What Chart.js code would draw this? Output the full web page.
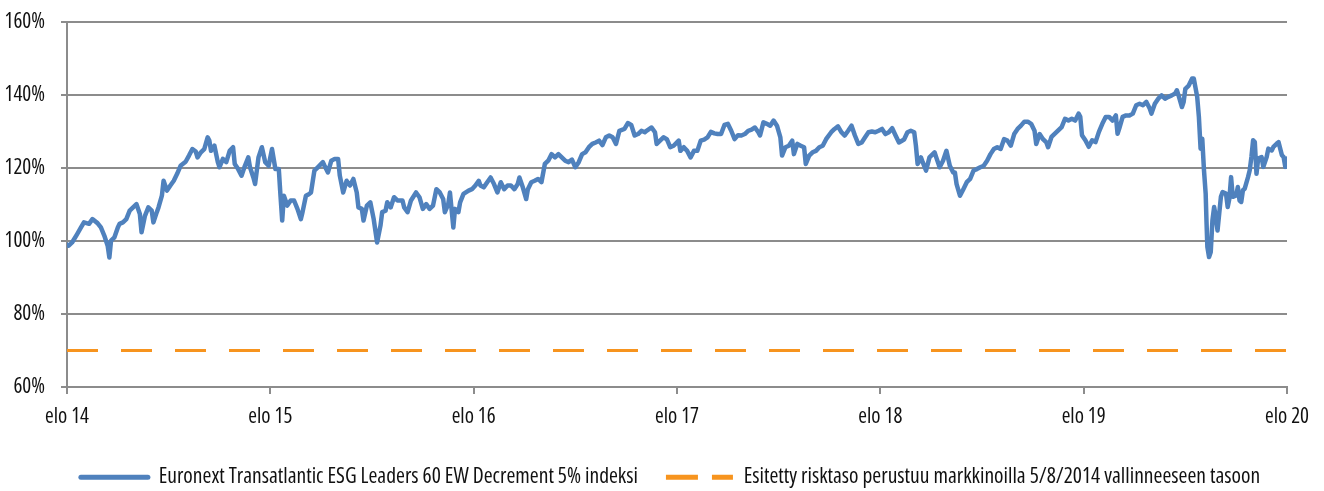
<!DOCTYPE html>
<html>
<head>
<meta charset="utf-8">
<style>
  html, body { margin: 0; padding: 0; background: #fff; overflow: hidden; }
  #wrap { width: 1324px; height: 498px; }
</style>
<script src="https://cdn.jsdelivr.net/npm/chart.js@4/dist/chart.umd.min.js"></script>
</head>
<body>
<div id="wrap"><canvas id="c" width="1324" height="498"></canvas></div>
<script>
// Months since elo 2014 (Aug 2014) and index level (%)
const months2014 = [0.0,0.1,0.3,0.6,0.8,1.0,1.3,1.5,1.8,2.0,2.2,2.4,2.5,2.6,2.8,3.0,3.1,3.3,3.5,3.7,
  3.9,4.1,4.3,4.4,4.6,4.8,5.0,5.1,5.3,5.4,5.6,5.7,5.9,6.1,6.3,6.5,6.7,7.0,7.2,7.4,
  7.6,7.7,7.9,8.1,8.3,8.4,8.5,8.7,8.9,9.0,9.2,9.4,9.6,9.8,9.9,10.1,10.3,10.5,10.7,10.8,
  11.0,11.1,11.3,11.5,11.7,11.9,12.1,12.3,12.5,12.6,12.7,12.8,13.0,13.2,13.4,13.6,13.8,13.9,14.1,14.3];
const values2014 = [99.0,98.7,99.6,101.9,103.5,105.1,104.7,106.0,104.9,103.7,101.5,98.7,95.5,100.1,101.0,103.7,104.7,105.1,106.0,108.3,
  109.2,110.1,107.4,102.4,106.9,109.2,108.3,105.1,107.9,109.2,112.4,116.5,113.8,115.2,116.5,118.4,120.6,121.7,123.4,125.2,
  124.5,122.9,124.3,125.2,128.4,127.5,124.7,126.1,121.6,120.2,122.5,121.6,124.7,125.7,121.1,119.7,117.9,120.6,122.9,120.2,
  117.4,115.6,122.9,125.7,121.6,120.6,125.2,119.7,119.7,112.4,105.6,112.4,109.7,111.1,111.1,108.8,106.0,107.9,112.4,112.9];

const months2015 = [14.4,14.6,14.8,15.1,15.2,15.4,15.6,15.8,16.0,16.1,16.3,16.5,16.7,16.9,17.1,17.2,17.4,17.5,17.7,17.9,
  18.1,18.3,18.5,18.6,18.8,18.9,19.1,19.3,19.5,19.8,19.9,20.1,20.3,20.6,20.8,21.0,21.2,21.4,21.6,21.8,
  22.0,22.2,22.3,22.5,22.6,22.8,22.9,23.1,23.2,23.4,23.7,23.9,24.1,24.3,24.4,24.6,24.8,25.0,25.2,25.4,
  25.6,25.8,26.0,26.2,26.4,26.6,26.7,26.9,27.1,27.2,27.4,27.6,27.8,28.0,28.2,28.4,28.6,28.8];
const values2015 = [113.3,119.3,120.2,121.6,120.6,118.8,122.0,122.5,122.5,117.9,113.3,116.5,115.2,117.0,113.3,109.2,108.8,105.6,109.7,110.6,
  106.0,99.6,104.2,107.9,108.3,110.6,109.2,112.0,111.1,111.1,109.2,107.9,111.1,113.3,112.0,108.8,110.1,108.8,109.7,114.2,
  113.3,111.5,107.9,110.1,113.3,103.7,108.8,107.9,110.6,112.9,113.8,114.2,115.2,116.5,115.2,114.7,116.1,117.4,115.6,113.3,
  116.1,114.2,115.2,115.2,114.2,115.6,117.4,114.7,111.5,114.2,116.1,116.5,117.0,116.1,121.1,122.0,123.8,122.9];

const months2017 = [29.0,29.2,29.4,29.6,29.8,30.0,30.2,30.4,30.6,30.8,31.0,31.2,31.4,31.6,31.8,32.0,32.2,32.4,32.6,32.9,
  33.1,33.3,33.5,33.7,33.9,34.1,34.2,34.5,34.7,34.8,35.0,35.2,35.4,35.6,35.8,36.1,36.2,36.4,36.6,36.8,
  37.0,37.2,37.4,37.6,37.8,38.0,38.2,38.4,38.6,38.8,39.0,39.2,39.4,39.6,39.8,40.0,40.2,40.4,40.6,40.8,
  40.9,41.1,41.3,41.5,41.7,41.9,42.1,42.2,42.4,42.6,42.8,42.9,43.1,43.3];
const values2017 = [123.8,122.9,122.0,121.6,122.3,120.2,121.6,123.8,124.3,125.7,126.6,127.0,127.5,126.3,128.4,128.9,128.4,126.6,130.2,130.7,
  132.3,131.8,128.9,129.3,130.2,129.8,130.2,131.1,129.8,126.6,127.5,128.4,127.9,125.7,126.1,127.5,124.7,125.7,124.7,122.9,
  124.7,124.7,127.5,127.8,128.4,129.9,129.5,129.3,129.3,131.8,132.1,130.2,127.9,129.0,128.9,129.3,130.2,130.5,131.1,129.8,
  128.9,132.5,132.1,131.6,133.0,131.6,128.4,123.4,125.7,126.1,127.5,123.8,126.6,126.1];

const months2018 = [43.5,43.6,43.8,44.0,44.2,44.4,44.6,44.8,45.1,45.3,45.5,45.7,45.9,46.1,46.3,46.5,46.7,46.9,47.1,47.3,
  47.5,47.7,47.9,48.1,48.3,48.5,48.7,48.9,49.1,49.4,49.6,49.8,50.0,50.1,50.2,50.4,50.5,50.7,50.9,51.2,
  51.3,51.5,51.7,51.9,52.1,52.3,52.4,52.5,52.7,52.9,53.1,53.3,53.5,53.7,53.9,54.1,54.3,54.5,54.7,54.9,
  55.1,55.3,55.5,55.7,55.9,56.1,56.3,56.5,56.7,56.9,57.1,57.2,57.4,57.6,57.8,57.9];
const values2018 = [125.7,121.1,123.4,124.3,124.7,125.7,126.1,127.9,129.8,130.7,131.4,129.8,128.9,130.2,131.6,128.9,126.6,127.0,128.4,129.8,
  130.0,129.8,130.2,130.7,129.3,129.8,130.9,128.9,127.0,127.8,129.8,130.2,129.8,126.1,121.1,122.9,121.6,119.3,122.9,124.3,
  122.9,120.2,122.0,124.7,120.6,118.8,118.8,115.6,112.4,114.2,116.1,117.0,119.3,119.7,120.2,120.6,122.0,123.8,125.2,125.7,
  125.2,127.9,127.5,126.1,129.3,130.7,131.6,132.7,132.7,132.1,130.2,126.6,129.3,127.9,127.0,125.7];

const months2019 = [58.1,58.3,58.5,58.7,58.9,59.1,59.3,59.5,59.7,59.8,59.9,60.1,60.3,60.5,60.7,60.9,61.1,61.3,61.5,61.7,
  61.9,62.0,62.1,62.3,62.5,62.7,62.9,63.1,63.3,63.5,63.7,63.9,64.0,64.2,64.4,64.6,64.8,65.0,65.2,65.4,
  65.5,65.6,65.8,65.9,66.0,66.2,66.4,66.5,66.7,66.8,66.9,67.0,67.1,67.2,67.25,67.3,67.4,67.5,67.6,67.7,
  67.8,67.9,68.0,68.1,68.2,68.4,68.5,68.6,68.7,68.8,69.0,69.1,69.2,69.3,69.4,69.5,69.7,69.8,69.9,70.0,
  70.1,70.2,70.3,70.5,70.6,70.8,70.9,71.1,71.2,71.4,71.5,71.7,71.8,71.9,72.0];
const values2019 = [128.5,129.4,130.3,131.2,133.5,133.0,133.5,133.0,134.9,134.0,129.0,127.6,125.8,127.6,127.1,129.9,132.1,134.0,134.0,133.0,
  134.4,129.4,130.8,134.0,134.4,134.4,134.9,137.2,137.6,137.2,138.1,136.3,134.9,137.6,139.0,139.9,139.0,139.5,139.9,140.4,
  141.3,139.9,136.7,138.1,141.7,142.6,144.5,144.5,139.5,134.0,125.3,128.0,119.4,113.0,105.2,98.4,95.6,97.0,105.7,109.3,
  106.6,102.9,107.5,112.1,113.4,113.0,109.3,111.6,117.5,112.1,112.5,114.8,111.1,110.7,113.9,114.3,117.5,119.4,123.0,127.6,
  127.1,118.4,122.6,123.0,120.3,123.0,125.3,124.8,125.8,126.7,127.1,123.5,123.0,120.3,122.6];

const riskMonths = [0, 72];
const riskLevel = [70, 70];

const xTickLabels = ['elo 14', 'elo 15', 'elo 16', 'elo 17', 'elo 18', 'elo 19', 'elo 20'];
const seriesNames = ['Euronext Transatlantic ESG Leaders 60 EW Decrement 5% indeksi',
                     'Esitetty risktaso perustuu markkinoilla 5/8/2014 vallinneeseen tasoon'];

const allMonths = [].concat(months2014, months2015, months2017, months2018, months2019);
const allValues = [].concat(values2014, values2015, values2017, values2018, values2019);
const indexPoints = allMonths.map((m, i) => ({ x: m, y: allValues[i] }));
const riskPoints = riskMonths.map((m, i) => ({ x: m, y: riskLevel[i] }));

const FAMILY = "'Open Sans', sans-serif";
// 'condensed' is passed through the weight slot so the canvas font string becomes
// "condensed <size>px 'Open Sans'" (CSS font shorthand with font-stretch).
const tickFont = { family: FAMILY, size: 21, weight: 'condensed' };
const legendFont = { family: FAMILY, size: 21.5, weight: 'condensed' };
const GRID = '#8c8c8c';
const BLUE = '#4F81BD';
const ORANGE = '#F7941E';
const TEXT = '#111111';

// Nudge the legend block so it is centred like the original (slightly right of canvas centre)
const legendShift = {
  id: 'legendShift',
  afterLayout(chart) {
    const lg = chart.legend;
    if (lg) { lg.left += 27; lg.right += 27; }
  }
};

new Chart(document.getElementById('c'), {
  type: 'line',
  data: {
    datasets: [
      { label: seriesNames[0], data: indexPoints, borderColor: BLUE, backgroundColor: BLUE,
        borderWidth: 4.5, pointRadius: 0, tension: 0, borderJoinStyle: 'round', borderCapStyle: 'round' },
      { label: seriesNames[1], data: riskPoints, borderColor: ORANGE, backgroundColor: ORANGE,
        borderWidth: 3, pointRadius: 0, borderDash: [31, 23] }
    ]
  },
  plugins: [legendShift],
  options: {
    responsive: false,
    animation: false,
    devicePixelRatio: 1,
    layout: { padding: { left: 0, right: 37, top: 22, bottom: 0 } },
    plugins: {
      tooltip: { enabled: false },
      legend: {
        position: 'bottom',
        labels: {
          font: legendFont,
          color: TEXT,
          padding: 28,
          usePointStyle: true,
          pointStyleWidth: 67,
          generateLabels: (chart) => chart.data.datasets.map((ds, i) => ({
            text: ds.label,
            datasetIndex: i,
            pointStyle: 'line',
            strokeStyle: ds.borderColor,
            fillStyle: ds.borderColor,
            lineWidth: 5,
            lineCap: i === 0 ? 'round' : 'butt',
            lineDash: i === 0 ? [] : [32, 14],
            fontColor: TEXT,
            hidden: false
          }))
        }
      }
    },
    scales: {
      x: {
        type: 'linear',
        min: 0, max: 72,
        afterFit: (s) => { s.height = 51.5; },
        afterBuildTicks: (s) => { s.ticks = xTickLabels.map((_, i) => ({ value: i * 12 })); },
        ticks: {
          autoSkip: false,
          maxRotation: 0,
          padding: 10,
          color: TEXT,
          font: tickFont,
          callback: (v) => xTickLabels[Math.round(v / 12)]
        },
        grid: { drawOnChartArea: false, drawTicks: true, tickLength: 7, color: GRID, lineWidth: 2 },
        border: { display: true, color: GRID, width: 2 }
      },
      y: {
        min: 60, max: 160,
        afterFit: (s) => { s.width = 67; s.paddingTop = 0; s.paddingBottom = 0; },
        ticks: {
          stepSize: 20,
          padding: 16,
          color: TEXT,
          font: tickFont,
          callback: (v) => v + '%'
        },
        grid: { color: GRID, lineWidth: 2, tickLength: 6 },
        border: { display: true, color: GRID, width: 2 }
      }
    }
  }
});
</script>
</body>
</html>
